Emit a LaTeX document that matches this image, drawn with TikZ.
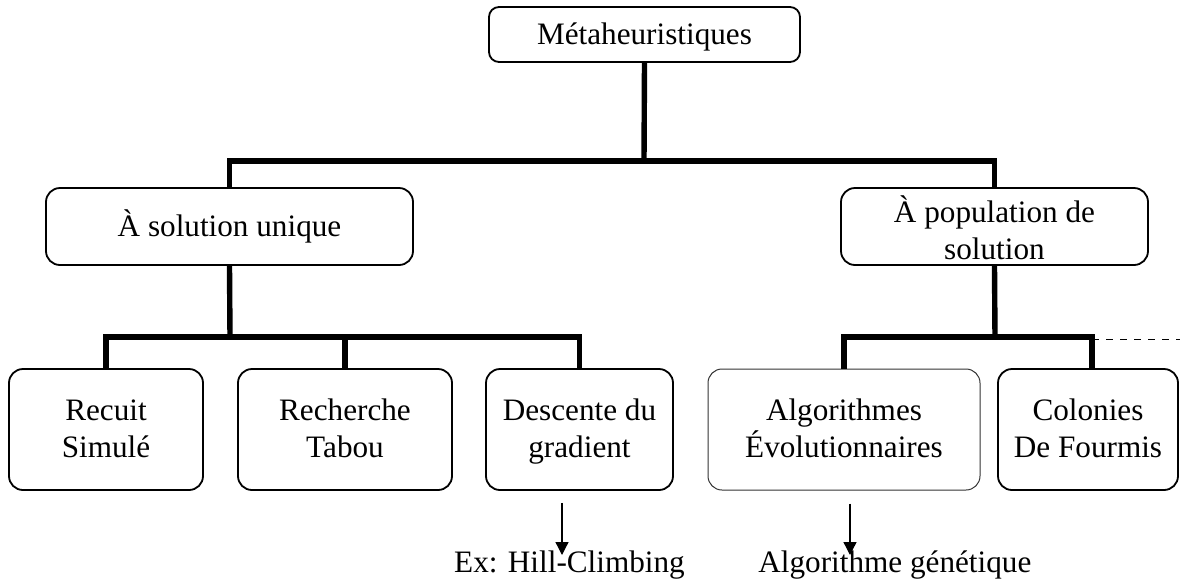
\documentclass[tikz,border=0pt]{standalone}
\usepackage{fontspec}
\setmainfont{Liberation Serif}
\usetikzlibrary{arrows.meta}

% struts that keep every label at the same baselines, descenders or not
\newcommand\topstrut{\rule{0pt}{14.5pt}}
\newcommand\botstrut{\rule[-5pt]{0pt}{5pt}}

\tikzset{
  box/.style={draw=black, line width=0.9pt, rounded corners=7pt, inner sep=0pt,
              align=center, font=\fontsize{15.6pt}{18.6pt}\selectfont},
  topbox/.style={box, rounded corners=5pt},
  softbox/.style={box, draw=black!80, line width=0.5pt},
  leaf/.style={box, minimum height=60.5pt},
  trunk/.style={line width=2.7pt, line join=miter},
  pointer/.style={line width=0.65pt, -{Triangle[length=6.5pt,width=6.5pt]}},
  note/.style={inner sep=0pt, font=\fontsize{15.6pt}{18.6pt}\selectfont},
  branchdash/.style={line width=0.5pt, dash pattern=on 3.5pt off 3.5pt}
}

\begin{document}
\begin{tikzpicture}[x=0.5pt, y=-0.5pt]
  \useasboundingbox (0,0) rectangle (1180,579);

  % root
  \node[topbox, minimum width=155.5pt, minimum height=27.5pt] (meta) at (644.5,34.5) {\topstrut Métaheuristiques\botstrut};

  % two families
  \node[box, minimum width=183.5pt, minimum height=38.5pt] (sol) at (229.5,226.5) {\topstrut À solution unique\botstrut};
  \node[box, minimum width=153.5pt, minimum height=38.5pt] (pop) at (994.5,226.5) {\topstrut À population de\\solution};

  % leaves
  \node[leaf, minimum width=97pt]   (recuit) at (106,429.5)   {\topstrut Recuit\\Simulé\botstrut};
  \node[leaf, minimum width=107pt]  (tabou)  at (345,429.5)   {\topstrut Recherche\\Tabou\botstrut};
  \node[leaf, minimum width=93.5pt] (desc)   at (579.5,429.5) {\topstrut Descente du\\gradient\botstrut};
  \node[leaf, softbox, minimum width=136pt, minimum height=60.5pt] (algo) at (844,429.5) {\topstrut Algorithmes\\Évolutionnaires\botstrut};
  \node[leaf, minimum width=90pt]   (colon)  at (1088,429.5)  {\topstrut Colonies\\De Fourmis\botstrut};

  % examples
  \node[note, anchor=base] (hill) at (569.5,572) {Ex: Hill-Climbing};
  \node[note, anchor=base west] (gen) at (758,572) {Algorithme génétique};

  % junctions of the tree
  \coordinate (j1) at (644,161);
  \coordinate (j2) at (230,337);
  \coordinate (j3) at (995,337);
  \coordinate (colonin) at (1092,369);
  \coordinate (dashend) at (1180,339);
  \coordinate (hilltip) at (562,555);
  \coordinate (gentip) at (850,555);

  % tree connectors
  \draw[trunk] (meta.south) -- (j1);
  \draw[trunk] (j1) -| (sol.north);
  \draw[trunk] (j1) -| (pop.north);

  \draw[trunk] (sol.south) -- (j2);
  \draw[trunk] (j2) -| (recuit.north);
  \draw[trunk] (j2) -| (tabou.north);
  \draw[trunk] (j2) -| (desc.north);

  \draw[trunk] (pop.south) -- (j3);
  \draw[trunk] (j3) -| (algo.north);
  \draw[trunk] (j3) -| (colonin);

  % further branches
  \draw[branchdash] (colonin |- dashend) -- (dashend);

  % examples pointers
  \draw[pointer] ([yshift=-6pt]desc.south -| hilltip) -- (hilltip);
  \draw[pointer] ([yshift=-6.5pt]algo.south -| gentip) -- (gentip);
\end{tikzpicture}
\end{document}
